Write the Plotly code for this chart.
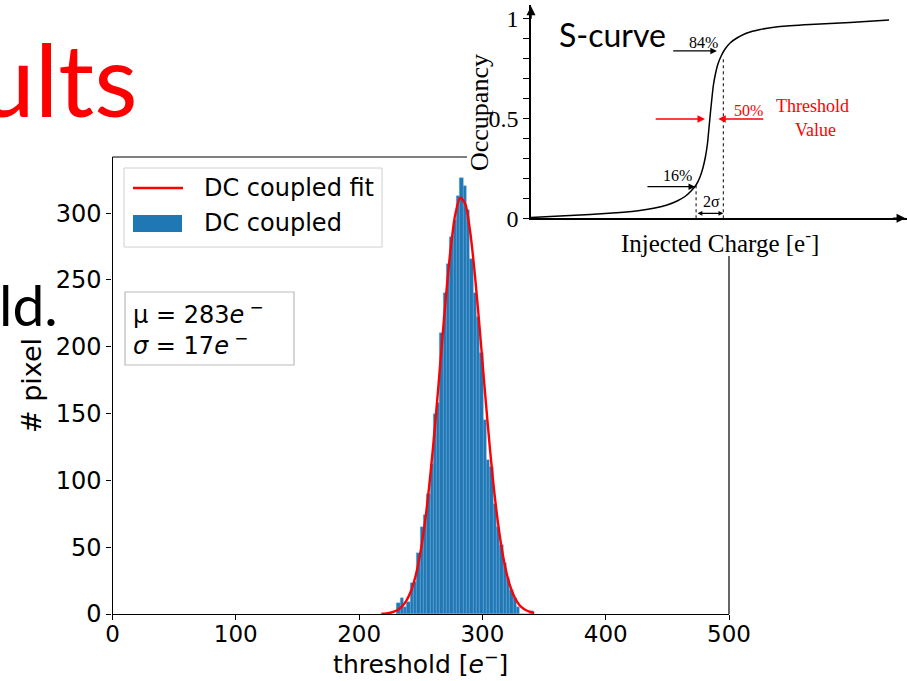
import plotly.graph_objects as go

W, H = 907, 681
def px(x): return x / W
def py(y): return 1 - y / H

# ---------------- data: histogram ----------------
bin_centers = [231.85, 234.55, 237.25, 239.95, 242.65, 245.35, 248.05, 250.75, 253.45, 256.15,
               258.85, 261.55, 264.25, 266.95, 269.65, 272.35, 275.05, 277.75, 280.45, 283.15,
               285.85, 288.55, 291.25, 293.95, 296.65, 299.35, 302.05, 304.75, 307.45, 310.15,
               312.85, 315.55, 318.25, 320.95, 323.65, 326.35, 329.05, 331.75, 334.45, 337.15,
               339.85]
bin_width = 2.7
counts = [8, 12, 5, 9, 23, 24, 46, 65, 74, 90,
          112, 150, 158, 210, 240, 262, 282, 295, 313, 326,
          320, 302, 266, 240, 222, 195, 145, 115, 110, 82,
          65, 52, 38, 27, 18, 12, 5, 0, 0, 0,
          2]

fit_x = [218, 222, 226, 230, 234, 238, 242, 246, 250, 254, 258, 262, 266, 270, 274, 278,
         282, 286, 290, 294, 298, 302, 306, 310, 314, 318, 322, 326, 330, 334, 338, 342]
fit_y = [0.2, 0.5, 1.1, 2.4, 4.9, 9.4, 17.0, 29.2, 47.4, 72.8, 105.9, 145.5, 189.2, 232.9, 271.2, 298.9,
         311.5, 307.2, 286.6, 253.1, 211.4, 167.1, 124.9, 88.4, 59.2, 37.5, 22.4, 12.7, 6.8, 3.5, 1.7, 0.8]

x_ticks = [0, 100, 200, 300, 400, 500]
y_ticks = [0, 50, 100, 150, 200, 250, 300]

# ---------------- data: S-curve inset (arbitrary charge units) ----------------
scurve_x = [0, 8.1, 16.5, 24.9, 30.4, 34.6, 38.0, 40.8, 43.0, 44.7, 46.1, 47.2, 48.0, 48.7, 49.3, 49.7,
            50.1, 50.5, 50.9, 51.5, 52.2, 53.1, 54.2, 55.6, 57.5, 60.3, 64.0, 69.5, 77.9, 89.1, 100.0]
scurve_y = [0.004, 0.0115, 0.019, 0.029, 0.039, 0.0515, 0.0665, 0.0865, 0.109, 0.1365, 0.1665, 0.2065,
            0.2515, 0.3065, 0.3765, 0.4515, 0.5265, 0.5965, 0.6615, 0.7215, 0.7715, 0.8115, 0.8465, 0.8765,
            0.9015, 0.9265, 0.944, 0.959, 0.969, 0.979, 0.9915]
occ_ticks = [0, 0.1, 0.2, 0.3, 0.4, 0.5, 0.6, 0.7, 0.8, 0.9, 1.0]
occ_ticktext = ["0", "", "", "", "", "0.5", "", "", "", "", "1"]
sigma_lo, sigma_hi = 46.1, 53.7

BLUE = "#1f77b4"
SANS = "DejaVu Sans"
SERIF = "Liberation Serif, Times New Roman, serif"

fig = go.Figure()
fig.add_trace(go.Bar(x=bin_centers, y=counts, width=bin_width, name="DC coupled",
                     marker=dict(color=BLUE, line=dict(color="#6aa6d8", width=0.4)),
                     xaxis="x", yaxis="y", showlegend=False))
fig.add_trace(go.Scatter(x=fit_x, y=fit_y, mode="lines", name="DC coupled fit",
                         line=dict(color="red", width=2.4, shape="spline", smoothing=0.8),
                         xaxis="x", yaxis="y", showlegend=False))
fig.add_trace(go.Scatter(x=scurve_x, y=scurve_y, mode="lines", name="S-curve",
                         line=dict(color="black", width=1.5, shape="spline", smoothing=0.5),
                         xaxis="x2", yaxis="y2", showlegend=False))

axis_common = dict(showgrid=False, zeroline=False, showline=True, linecolor="black", linewidth=1.2,
                   ticks="outside", ticklen=5, tickwidth=1.2, tickcolor="black", automargin=False)

fig.update_layout(
    width=W, height=H, autosize=False,
    margin=dict(l=0, r=0, t=0, b=0, pad=0),
    paper_bgcolor="white", plot_bgcolor="white",
    showlegend=False, bargap=0,
    xaxis=dict(domain=[px(112.5), px(729)], range=[0, 500], tickvals=x_ticks, anchor="y",
               tickfont=dict(family=SANS, size=23, color="black"), ticklabelstandoff=-6,
               title=dict(text="threshold [<i>e</i><sup>−</sup>]", font=dict(family=SANS, size=25, color="black"), standoff=9),
               **axis_common),
    yaxis=dict(domain=[py(614), py(157)], range=[0, 342], tickvals=y_ticks, anchor="x",
               tickfont=dict(family=SANS, size=24, color="black"),
               title=dict(text="# pixel", font=dict(family=SANS, size=27, color="black"), standoff=6),
               **axis_common),
    xaxis2=dict(domain=[px(531), 1.0], range=[0, 105], anchor="y2", showgrid=False, zeroline=False,
                automargin=False,
                showline=True, linecolor="black", linewidth=1.5, showticklabels=False, ticks=""),
    yaxis2=dict(domain=[py(218.3), py(5)], range=[0, 1.0665], anchor="x2", showgrid=False, zeroline=False,
                automargin=False,
                showline=True, linecolor="black", linewidth=1.5, ticks="outside", ticklen=6, tickwidth=1.2,
                tickcolor="black", tickvals=occ_ticks, ticktext=occ_ticktext,
                tickfont=dict(family=SERIF, size=24, color="black")),
)

shapes = []
# remaining spines of the histogram frame (partly hidden behind inset)
shapes.append(dict(type="line", xref="paper", yref="paper", x0=px(112.5), x1=px(467), y0=py(157), y1=py(157),
                   line=dict(color="black", width=1.2)))
shapes.append(dict(type="line", xref="paper", yref="paper", x0=px(729), x1=px(729), y0=py(256), y1=py(614),
                   line=dict(color="black", width=1.2)))
# legend box
shapes.append(dict(type="rect", xref="paper", yref="paper", x0=px(124), x1=px(382), y0=py(247), y1=py(168),
                   line=dict(color="#d0d0d0", width=1), fillcolor="rgba(255,255,255,0.8)"))
shapes.append(dict(type="line", xref="paper", yref="paper", x0=px(133), x1=px(183), y0=py(188), y1=py(188),
                   line=dict(color="red", width=2.4)))
shapes.append(dict(type="rect", xref="paper", yref="paper", x0=px(133), x1=px(182), y0=py(232), y1=py(215),
                   line=dict(width=0), fillcolor=BLUE))
# parameter box
shapes.append(dict(type="rect", xref="paper", yref="paper", x0=px(125), x1=px(294), y0=py(365), y1=py(292),
                   line=dict(color="#bbbbbb", width=1.2), fillcolor="white"))
# dashed guide lines in inset
shapes.append(dict(type="line", xref="x2", yref="y2", x0=sigma_lo, x1=sigma_lo, y0=0, y1=0.165,
                   line=dict(color="black", width=1, dash="dot")))
shapes.append(dict(type="line", xref="x2", yref="y2", x0=sigma_hi, x1=sigma_hi, y0=0, y1=0.81,
                   line=dict(color="black", width=1, dash="dot")))
fig.update_layout(shapes=shapes)

def note(text, x, y, size, color="black", family=SANS, xanchor="center", yanchor="middle", **kw):
    return dict(text=text, xref="paper", yref="paper", x=px(x), y=py(y), xanchor=xanchor, yanchor=yanchor,
                showarrow=False, font=dict(family=family, size=size, color=color), **kw)

ann = []
# slide text fragments
ann.append(note("ults", 140, 78, 100, color="red", family="Lato", xanchor="right"))
ann.append(note("ld.", -3, 304, 57, family="Lato", xanchor="left"))
# legend texts
ann.append(note("DC coupled fit", 202, 188, 24, xanchor="left"))
ann.append(note("DC coupled", 202, 223, 24, xanchor="left"))
# parameter text
ann.append(note("μ = 283<i>e</i><sup> −</sup><br><i>σ</i> = 17<i>e</i><sup> −</sup>", 131, 328, 24,
                xanchor="left", align="left"))

# inset axis arrowheads
ann.append(dict(text="", xref="x2", yref="y2", x=104.6, y=0, ax=-14, ay=0, showarrow=True,
                arrowhead=2, arrowsize=1.2, arrowwidth=1.5, arrowcolor="black"))
ann.append(dict(text="", xref="x2", yref="y2", x=0, y=1.06, ax=0, ay=14, showarrow=True,
                arrowhead=2, arrowsize=1.2, arrowwidth=1.5, arrowcolor="black"))
# inset labels
ann.append(note("S-curve", 612, 35, 32, family="Lato"))
ann.append(note("Occupancy", 480, 113, 26, family=SERIF, textangle=-90))
ann.append(note("Injected Charge [e<sup>-</sup>]", 720, 241, 25, family=SERIF))

def ins_text(text, x, y, size, color="black"):
    return dict(text=text, xref="x2", yref="y2", x=x, y=y, xanchor="center", yanchor="middle", showarrow=False,
                font=dict(family=SERIF, size=size, color=color))

def ins_arrow(x_tip, x_tail, y, color="black", width=1.3):
    return dict(text="", xref="x2", yref="y2", axref="x2", ayref="y2", x=x_tip, y=y, ax=x_tail, ay=y,
                showarrow=True, arrowhead=2, arrowsize=1, arrowwidth=width, arrowcolor=color)

ann.append(ins_arrow(51.9, 39.3, 0.837))
ann.append(ins_text("84%", 48.3, 0.878, 16))
ann.append(ins_arrow(45.8, 32.1, 0.158))
ann.append(ins_text("16%", 40.8, 0.213, 16))
ann.append(ins_arrow(48.6, 34.4, 0.496, color="red", width=1.5))
ann.append(ins_arrow(52.3, 65.3, 0.496, color="red", width=1.5))
ann.append(ins_text("50%", 60.6, 0.541, 16, color="red"))
ann.append(ins_text("Threshold", 78.7, 0.561, 18, color="red"))
ann.append(ins_text("Value", 79.4, 0.442, 18, color="red"))
# 2 sigma double arrow
ann.append(dict(text="", xref="x2", yref="y2", axref="x2", ayref="y2", x=sigma_hi, y=0.025, ax=sigma_lo, ay=0.025,
                showarrow=True, arrowside="end+start", arrowhead=2, startarrowhead=2, arrowsize=0.8,
                startarrowsize=0.8, arrowwidth=1.2, arrowcolor="black"))
ann.append(ins_text("2σ", 50.3, 0.083, 16))
fig.update_layout(annotations=ann)

fig.write_html("out.html")
